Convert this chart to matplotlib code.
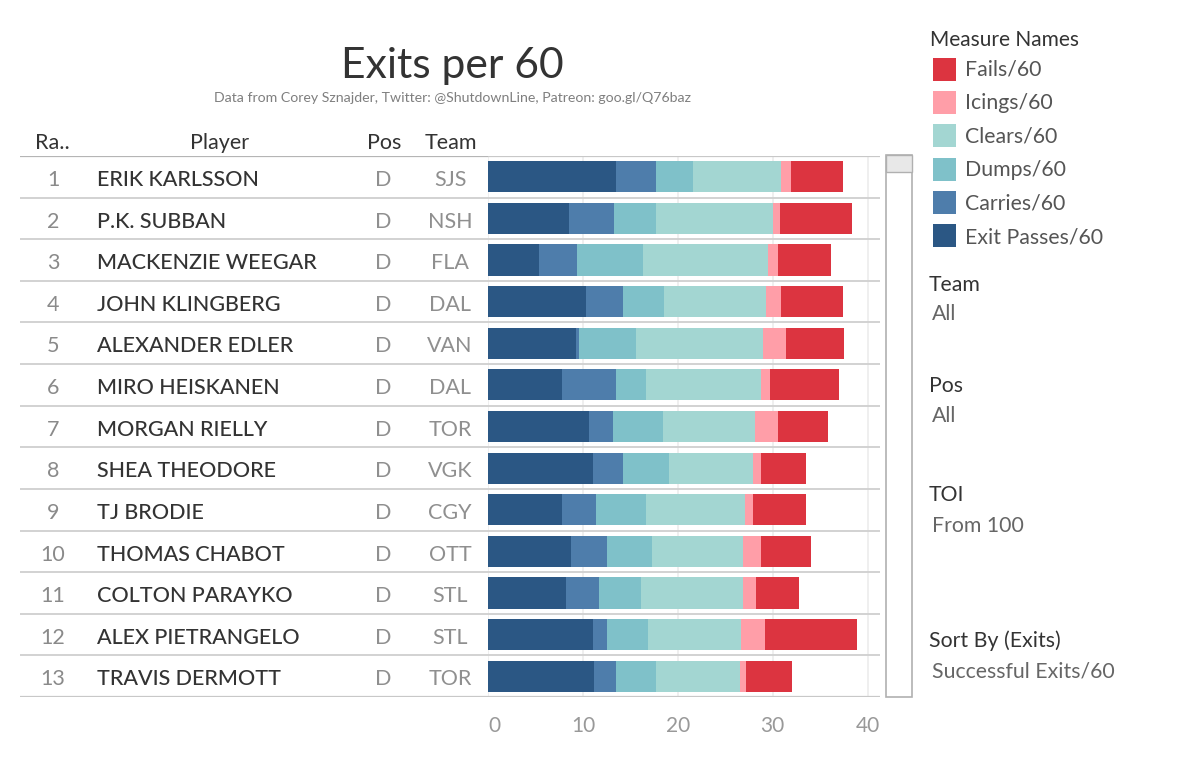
import matplotlib
matplotlib.use("Agg")
import matplotlib.pyplot as plt
from matplotlib.patches import Rectangle

# ---------------- data ----------------
ranks = list(range(1, 14))
players = ["ERIK KARLSSON", "P.K. SUBBAN", "MACKENZIE WEEGAR", "JOHN KLINGBERG",
           "ALEXANDER EDLER", "MIRO HEISKANEN", "MORGAN RIELLY", "SHEA THEODORE",
           "TJ BRODIE", "THOMAS CHABOT", "COLTON PARAYKO", "ALEX PIETRANGELO",
           "TRAVIS DERMOTT"]
positions = ["D"] * 13
teams = ["SJS", "NSH", "FLA", "DAL", "VAN", "DAL", "TOR", "VGK", "CGY", "OTT",
         "STL", "STL", "TOR"]

exit_passes = [13.50, 8.54, 5.38, 10.33, 9.28, 7.84, 10.69, 11.04, 7.84, 8.72, 8.19, 11.04, 11.21]
carries     = [4.18, 4.75, 4.04, 3.87, 0.35, 5.66, 2.46, 3.16, 3.51, 3.86, 3.51, 1.54, 2.29]
dumps       = [3.90, 4.39, 6.89, 4.39, 5.98, 3.16, 5.27, 4.92, 5.31, 4.75, 4.43, 4.26, 4.22]
clears      = [9.32, 12.34, 13.18, 10.72, 13.36, 12.13, 9.66, 8.79, 10.37, 9.52, 10.72, 9.84, 8.78]
icings      = [1.05, 0.70, 1.05, 1.58, 2.46, 0.88, 2.46, 0.88, 0.88, 1.94, 1.41, 2.46, 0.71]
fails       = [5.45, 7.66, 5.63, 6.50, 6.08, 7.31, 5.27, 4.67, 5.55, 5.20, 4.50, 9.77, 4.85]

measure_names = ["Exit Passes/60", "Carries/60", "Dumps/60", "Clears/60", "Icings/60", "Fails/60"]
series = [exit_passes, carries, dumps, clears, icings, fails]
colors = ["#2b5784", "#4e7dab", "#7fc1c9", "#a3d6d2", "#ff9ea8", "#dc3440"]
xticks = [0, 10, 20, 30, 40]

filters = [("Team", "All"), ("Pos", "All"), ("TOI", "From 100"),
           ("Sort By (Exits)", "Successful Exits/60")]

# ---------------- figure ----------------
plt.rcParams['font.family'] = ['Lato', 'DejaVu Sans']
W, H = 1200, 766
fig = plt.figure(figsize=(W / 100, H / 100), dpi=100)
fig.patch.set_facecolor("white")

def fy(py):
    return 1 - py / H

top_px, bot_px = 156, 697
ax = fig.add_axes([488 / W, fy(bot_px), (880 - 488) / W, (bot_px - top_px) / H])
tab = fig.add_axes([20 / W, fy(bot_px), (488 - 20) / W, (bot_px - top_px) / H], sharey=ax)

n = len(players)
rows = list(range(n))

# stacked bars
left = [0.0] * n
for name, vals, col in zip(measure_names, series, colors):
    ax.barh(rows, vals, left=left, height=0.75, color=col, edgecolor="none", zorder=3)
    left = [l + v for l, v in zip(left, vals)]

ax.set_ylim(n - 0.5, -0.5)
ax.set_xlim(0, 41.3)
ax.set_xticks(xticks)
labels = ax.set_xticklabels([str(t) for t in xticks])
labels[0].set_horizontalalignment("left")
ax.tick_params(axis="x", length=0, pad=14, labelsize=15, labelcolor="#999999")
ax.tick_params(axis="y", left=False, labelleft=False)
for s in ax.spines.values():
    s.set_visible(False)
for t in xticks:
    ax.axvline(t, color="#ececec", lw=1.2, zorder=1)
for i in range(n - 1):
    ax.axhline(i + 0.5, color="#cfcfcf", lw=1.3, zorder=2)
ax.axhline(-0.5, color="#c8c8c8", lw=1.6, zorder=2)
ax.axhline(n - 0.5, color="#c8c8c8", lw=1.6, zorder=2)

# table
tab.set_xlim(20, 488)
tab.axis("off")
for i in range(n - 1):
    tab.axhline(i + 0.5, color="#cfcfcf", lw=1.3)
tab.axhline(-0.5, color="#b5b5b5", lw=1.6)
tab.axhline(n - 0.5, color="#c8c8c8", lw=1.6)
off = 0.22
for i in rows:
    tab.text(53, i + off, str(ranks[i]), ha="center", va="baseline", fontsize=15.5,
             color="#8a8a8a")
    tab.text(97, i + off, players[i], ha="left", va="baseline", fontsize=15.5, color="#333333",
             fontweight="medium")
    tab.text(383, i + off, positions[i], ha="center", va="baseline", fontsize=15.5,
             color="#8f8f8f")
    tab.text(450, i + off, teams[i], ha="center", va="baseline", fontsize=15.5,
             color="#8f8f8f")

# headers
hdr_y = fy(149)
fig.text(52 / W, hdr_y, "Ra..", ha="center", va="baseline", fontsize=15.5, color="#333333")
fig.text(220 / W, hdr_y, "Player", ha="center", va="baseline", fontsize=15.5, color="#333333")
fig.text(384 / W, hdr_y, "Pos", ha="center", va="baseline", fontsize=15.5, color="#333333")
fig.text(451 / W, hdr_y, "Team", ha="center", va="baseline", fontsize=15.5, color="#333333")

# title
fig.text(452 / W, fy(78), "Exits per 60", ha="center", va="baseline", fontsize=30.7, color="#333333")
fig.text(452 / W, fy(102), "Data from Corey Sznajder, Twitter: @ShutdownLine, Patreon: goo.gl/Q76baz",
         ha="center", va="baseline", fontsize=10.2, color="#7f7f7f")

# scrollbar
fig.patches.append(Rectangle((886 / W, fy(697)), 26 / W, (697 - 155) / H, transform=fig.transFigure,
                             facecolor="white", edgecolor="#b0b0b0", lw=1.2))
fig.patches.append(Rectangle((886 / W, fy(172)), 26 / W, 17 / H, transform=fig.transFigure,
                             facecolor="#e8e8e8", edgecolor="#b0b0b0", lw=1.0))

# legend
fig.text(930 / W, fy(46), "Measure Names", ha="left", va="baseline", fontsize=15, color="#333333")
for k, (name, col) in enumerate(zip(measure_names[::-1], colors[::-1])):
    yc = 69 + k * 33.4
    fig.patches.append(Rectangle((933 / W, fy(yc + 11.5)), 23 / W, 23 / H, transform=fig.transFigure,
                                 facecolor=col, edgecolor="none"))
    fig.text(965 / W, fy(yc + 7), name, ha="left", va="baseline", fontsize=15.3, color="#555555")

# filters
filter_y = [(284, 313), (385, 415), (494, 525), (640, 670)]
for (title, val), (y1, y2) in zip(filters, filter_y):
    fig.text(929 / W, fy(y1 + 7), title, ha="left", va="baseline", fontsize=15.3, color="#333333")
    fig.text(932 / W, fy(y2 + 7), val, ha="left", va="baseline", fontsize=15.3, color="#666666")

fig.savefig("out.png", dpi=100)
